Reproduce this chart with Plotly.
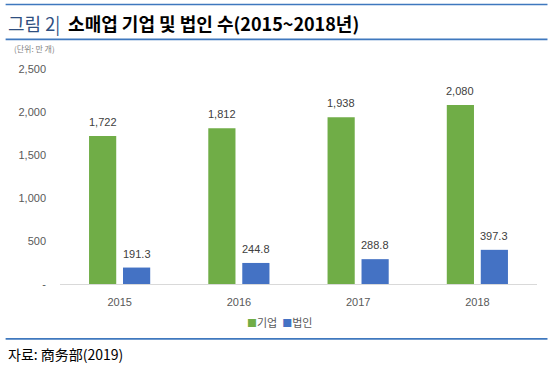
import plotly.graph_objects as go

years = ["2015", "2016", "2017", "2018"]
firms = [1722, 1812, 1938, 2080]
corps = [191.3, 244.8, 288.8, 397.3]
series_names = ["기업", "법인"]
series_colors = ["#70AD47", "#4472C4"]
y_tickvals = [0, 500, 1000, 1500, 2000, 2500]
y_ticktext = ["-", "500", "1,000", "1,500", "2,000", "2,500"]
firm_labels = [f"{v:,.0f}" for v in firms]
corp_labels = [f"{v:,.1f}" for v in corps]

W, H = 553, 366
L, R, T, B = 59.5, 15.5, 69, 81.5
PW, PH = W - L - R, H - T - B

def px(x):
    return (x - L) / PW

def py(y):
    return (H - B - y) / PH

NUM_FONT = "Liberation Sans, Arial, sans-serif"
KR_FONT = "Noto Sans CJK KR, sans-serif"

fig = go.Figure()
fig.add_trace(go.Bar(x=years, y=firms, name=series_names[0],
                     marker=dict(color=series_colors[0], line=dict(width=0)),
                     showlegend=False))
fig.add_trace(go.Bar(x=years, y=corps, name=series_names[1],
                     marker=dict(color=series_colors[1], line=dict(width=0)),
                     showlegend=False))

annotations = []
for i, yr in enumerate(years):
    annotations.append(dict(x=i, y=firms[i], xref="x", yref="y", text=firm_labels[i],
                            showarrow=False, xshift=-17, yshift=6, yanchor="bottom",
                            font=dict(family=NUM_FONT, size=11, color="#404040")))
    annotations.append(dict(x=i, y=corps[i], xref="x", yref="y", text=corp_labels[i],
                            showarrow=False, xshift=17, yshift=6, yanchor="bottom",
                            font=dict(family=NUM_FONT, size=11, color="#404040")))

# title
annotations.append(dict(
    x=px(5), y=py(22.5), xref="paper", yref="paper", xanchor="left", yanchor="middle",
    showarrow=False,
    text="<span style='color:#2F4F80'>그림 2|</span>  <b>소매업 기업 및 법인 수(2015~2018년)</b>",
    font=dict(family=KR_FONT, size=18, color="#000000")))
# unit
annotations.append(dict(
    x=px(11), y=py(48), xref="paper", yref="paper", xanchor="left", yanchor="middle",
    showarrow=False, text="(단위: 만 개)",
    font=dict(family=KR_FONT, size=8, color="#7F7F7F")))
# legend
legend_text = "  ".join(
    f"<span style='color:{c};font-size:10px'>■</span>{n}"
    for n, c in zip(series_names, series_colors))
annotations.append(dict(
    x=px(279), y=py(323), xref="paper", yref="paper", xanchor="center", yanchor="middle",
    showarrow=False, text=legend_text,
    font=dict(family=KR_FONT, size=11, color="#595959")))
# source
annotations.append(dict(
    x=px(5), y=py(355), xref="paper", yref="paper", xanchor="left", yanchor="middle",
    showarrow=False, text="자료: 商务部(2019)",
    font=dict(family=KR_FONT, size=14, color="#000000")))

shapes = []
for yy in (4.3, 39.3, 339.5):
    shapes.append(dict(type="line", xref="paper", yref="paper",
                       x0=px(5), x1=px(548), y0=py(yy), y1=py(yy),
                       line=dict(color="#3F78BE", width=1.6)))

fig.update_layout(
    width=W, height=H,
    margin=dict(l=L, r=R, t=T, b=B, pad=0),
    paper_bgcolor="white", plot_bgcolor="white",
    barmode="group", bargap=0.43, bargroupgap=0.2,
    showlegend=False,
    annotations=annotations, shapes=shapes,
    xaxis=dict(type="category", range=[-0.5, 3.5], showline=True, linecolor="#D9D9D9",
               linewidth=1, showgrid=False, zeroline=False, ticks="",
               tickfont=dict(family=NUM_FONT, size=11, color="#595959"),
               ticklabelstandoff=8),
    yaxis=dict(range=[0, 2500], tickvals=y_tickvals, ticktext=y_ticktext,
               showline=False, showgrid=False, zeroline=False, ticks="",
               tickfont=dict(family=NUM_FONT, size=11, color="#595959"),
               ticklabelstandoff=13),
)

fig.write_html("out.html", config={"displayModeBar": False},
               post_script="document.body.style.margin='0';")
